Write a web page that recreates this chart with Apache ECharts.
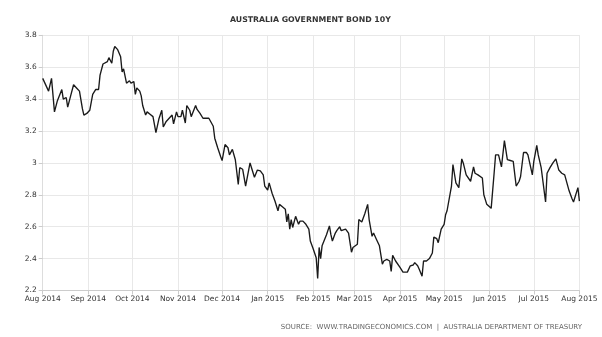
<!DOCTYPE html>
<html>
<head>
<meta charset="utf-8">
<script src="https://cdn.jsdelivr.net/npm/echarts@6/dist/echarts.min.js"></script>
<style>
html,body{margin:0;padding:0;background:#fff;}
#chart{width:602px;height:337px;}
</style>
</head>
<body>
<div id="chart"></div>
<script>
const titleText = 'AUSTRALIA GOVERNMENT BOND 10Y';
const sourceText = 'SOURCE:  WWW.TRADINGECONOMICS.COM  |  AUSTRALIA DEPARTMENT OF TREASURY';
const monthNames = ['Jan','Feb','Mar','Apr','May','Jun','Jul','Aug','Sep','Oct','Nov','Dec'];

const dates = [
'2014-08-01','2014-08-05','2014-08-07','2014-08-09','2014-08-11','2014-08-14','2014-08-15','2014-08-17','2014-08-18','2014-08-20',
'2014-08-22','2014-08-24','2014-08-26','2014-08-28','2014-08-29','2014-08-31',
'2014-09-02','2014-09-04','2014-09-06','2014-09-08','2014-09-09','2014-09-11','2014-09-14','2014-09-15','2014-09-17','2014-09-18',
'2014-09-19','2014-09-21','2014-09-23','2014-09-24','2014-09-25','2014-09-27','2014-09-29','2014-09-30',
'2014-10-02','2014-10-03','2014-10-04','2014-10-06','2014-10-07','2014-10-08','2014-10-10','2014-10-11','2014-10-13','2014-10-15',
'2014-10-17','2014-10-19','2014-10-21','2014-10-22','2014-10-24','2014-10-26','2014-10-28','2014-10-29','2014-10-31',
'2014-11-01','2014-11-03','2014-11-04','2014-11-06','2014-11-07','2014-11-09','2014-11-10','2014-11-13','2014-11-14','2014-11-16',
'2014-11-18','2014-11-19','2014-11-22','2014-11-23','2014-11-25','2014-11-26','2014-11-28','2014-11-30',
'2014-12-01','2014-12-03','2014-12-05','2014-12-06','2014-12-08','2014-12-10','2014-12-12','2014-12-13','2014-12-15','2014-12-17',
'2014-12-20','2014-12-21','2014-12-22','2014-12-23','2014-12-25','2014-12-27','2014-12-29','2014-12-30',
'2015-01-01','2015-01-02','2015-01-04','2015-01-06','2015-01-08','2015-01-09','2015-01-11','2015-01-13','2015-01-14','2015-01-15',
'2015-01-16','2015-01-17','2015-01-18','2015-01-20','2015-01-22','2015-01-23','2015-01-25','2015-01-27','2015-01-29','2015-01-30',
'2015-02-01','2015-02-02','2015-02-03','2015-02-04','2015-02-05','2015-02-06','2015-02-07','2015-02-10','2015-02-12','2015-02-13',
'2015-02-14','2015-02-16','2015-02-17','2015-02-19','2015-02-20','2015-02-23','2015-02-25','2015-02-27','2015-02-28',
'2015-03-03','2015-03-04','2015-03-06','2015-03-08','2015-03-10','2015-03-11','2015-03-13','2015-03-14','2015-03-16','2015-03-18',
'2015-03-20','2015-03-21','2015-03-23','2015-03-25','2015-03-26','2015-03-27','2015-03-29',
'2015-04-01','2015-04-03','2015-04-04','2015-04-06','2015-04-08','2015-04-10','2015-04-11','2015-04-13','2015-04-14','2015-04-16',
'2015-04-17','2015-04-19','2015-04-21','2015-04-23','2015-04-24','2015-04-26','2015-04-27','2015-04-29',
'2015-05-01','2015-05-02','2015-05-03','2015-05-04','2015-05-06','2015-05-07','2015-05-09','2015-05-11','2015-05-13','2015-05-14',
'2015-05-15','2015-05-16','2015-05-19','2015-05-21','2015-05-22','2015-05-24','2015-05-27','2015-05-28','2015-05-30',
'2015-06-02','2015-06-04','2015-06-05','2015-06-07','2015-06-08','2015-06-09','2015-06-11','2015-06-13','2015-06-15','2015-06-17',
'2015-06-19','2015-06-21','2015-06-22','2015-06-24','2015-06-26','2015-06-27','2015-06-30',
'2015-07-01','2015-07-03','2015-07-04','2015-07-06','2015-07-09','2015-07-10','2015-07-12','2015-07-14','2015-07-16','2015-07-18',
'2015-07-20','2015-07-22','2015-07-25','2015-07-27','2015-07-28','2015-07-31','2015-08-01'
];

const yields = [
3.53,3.45,3.53,3.32,3.39,3.46,3.40,3.41,3.35,3.42,
3.49,3.47,3.45,3.34,3.30,3.31,
3.33,3.43,3.46,3.46,3.55,3.62,3.635,3.66,3.625,3.70,
3.73,3.71,3.665,3.57,3.59,3.50,3.515,3.50,
3.51,3.43,3.47,3.45,3.42,3.36,3.30,3.32,3.305,3.29,
3.19,3.275,3.33,3.225,3.26,3.28,3.30,3.245,3.32,
3.29,3.29,3.33,3.25,3.36,3.33,3.29,3.36,3.335,3.31,
3.28,3.29,3.28,3.27,3.23,3.155,3.095,3.04,
3.015,3.115,3.095,3.05,3.085,3.02,2.865,2.97,2.96,2.855,
3.0,2.97,2.94,2.91,2.955,2.95,2.925,2.855,
2.83,2.875,2.81,2.76,2.70,2.74,2.725,2.71,2.63,2.68,
2.585,2.645,2.595,2.665,2.615,2.635,2.635,2.615,2.585,2.51,
2.46,2.45,2.405,2.275,2.47,2.40,2.48,2.55,2.605,2.55,
2.51,2.56,2.575,2.60,2.575,2.585,2.56,2.44,2.47,
2.49,2.645,2.63,2.68,2.74,2.645,2.54,2.56,2.52,2.48,
2.365,2.385,2.395,2.385,2.32,2.42,2.385,
2.345,2.315,2.315,2.315,2.355,2.36,2.375,2.355,2.335,2.29,
2.385,2.385,2.40,2.435,2.535,2.525,2.50,2.585,
2.615,2.675,2.70,2.71,2.855,2.99,2.875,2.845,3.025,3.0,
3.01,2.925,2.885,2.975,2.935,2.925,2.905,2.80,2.74,
2.715,2.935,3.05,3.05,3.055,2.975,3.14,3.02,3.015,3.01,
2.855,2.885,2.915,3.065,3.065,3.05,2.925,
3.01,3.11,3.05,2.97,2.755,2.935,2.97,3.0,3.025,2.955,
2.935,2.925,2.825,2.775,2.755,2.845,2.76
];

const seriesData = dates.map((d, i) => [d, yields[i]]);
const labelFont = 'DejaVu Sans';

const chart = echarts.init(document.getElementById('chart'), null, {renderer: 'canvas'});
chart.setOption({
  animation: false,
  backgroundColor: '#ffffff',
  title: [
    {
      text: titleText,
      left: 225,
      top: 11,
      textStyle: {fontFamily: labelFont, fontSize: 7.8, fontWeight: 'bold', color: '#333'}
    },
    {
      text: sourceText,
      right: 15,
      top: 319,
      textStyle: {fontFamily: labelFont, fontSize: 7, fontWeight: 'normal', color: '#666'}
    }
  ],
  grid: {left: 42.7, right: 22.6, top: 35.3, bottom: 46.5, containLabel: false},
  xAxis: {
    type: 'time',
    min: '2014-08-01',
    max: '2015-08-01',
    splitNumber: 12,
    minInterval: 28 * 24 * 3600 * 1000,
    maxInterval: 31 * 24 * 3600 * 1000,
    axisLine: {show: true, lineStyle: {color: '#cccccc', width: 1}},
    axisTick: {show: true, length: 4, lineStyle: {color: '#cccccc'}},
    splitLine: {show: true, lineStyle: {color: '#e8e8e8', width: 1}},
    axisLabel: {
      fontFamily: labelFont, fontSize: 7.5, color: '#333', margin: 5,
      showMinLabel: true, showMaxLabel: true, hideOverlap: false,
      formatter: function (val) {
        const d = new Date(val);
        return monthNames[d.getMonth()] + ' ' + d.getFullYear();
      }
    }
  },
  yAxis: {
    type: 'value',
    min: 2.2,
    max: 3.8,
    interval: 0.2,
    axisLine: {show: true, lineStyle: {color: '#dddddd', width: 1}},
    axisTick: {show: true, length: 4, lineStyle: {color: '#cccccc'}},
    splitLine: {show: true, lineStyle: {color: '#e8e8e8', width: 1}},
    axisLabel: {
      fontFamily: labelFont, fontSize: 7.5, color: '#333', margin: 6,
      formatter: function (v) { return String(Math.round(v * 10) / 10); }
    }
  },
  series: [{
    type: 'line',
    data: seriesData,
    showSymbol: false,
    symbol: 'none',
    lineStyle: {color: '#1a1a1a', width: 1.35},
    emphasis: {disabled: true}
  }]
});
</script>
</body>
</html>
